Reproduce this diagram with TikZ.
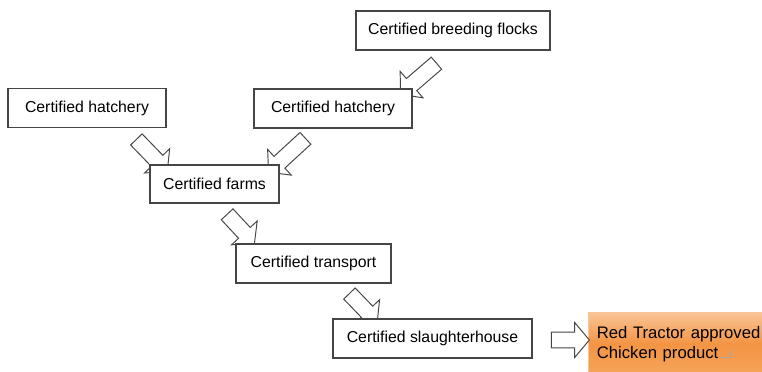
\documentclass[tikz,border=0pt]{standalone}
\usepackage{fontspec}
\setmainfont{Liberation Sans}
\usetikzlibrary{shapes.arrows,backgrounds}
\definecolor{boxline}{HTML}{454545}
\definecolor{prodtop}{HTML}{F9C597}
\definecolor{prodmid}{HTML}{F39443}
\definecolor{prodbot}{HTML}{F6A45B}
\tikzset{
  certbox/.style={draw=boxline,line width=0.6pt,fill=white,minimum height=0.78cm,inner sep=0pt,font=\fontsize{9}{11}\selectfont},
  flowarrow/.style={single arrow,draw=boxline,fill=white,line width=0.55pt,inner xsep=0pt,inner ysep=0.15cm,minimum width=0pt,
    single arrow head extend=0.19cm,single arrow tip angle=100,sloped,allow upside down},
  prodbox/.style={top color=prodtop,bottom color=prodbot,middle color=prodmid,draw=prodtop,line width=0.4pt,
    align=left,text width=3.66cm,inner xsep=0.17cm,inner ysep=0pt,font=\fontsize{9.5}{11.4}\selectfont}
}
\begin{document}
\begin{tikzpicture}[x=0.02cm,y=-0.02cm]
\clip(0,0)rectangle(762,372);
% boxes
\node[certbox,minimum width=3.88cm](flocks)at(453,30.5){Certified breeding flocks};
\node[certbox,minimum width=3.16cm](hatchL)at(87,108){Certified hatchery};
\node[certbox,minimum width=3.16cm](hatchR)at(333,108.5){Certified hatchery};
\node[certbox,minimum width=2.58cm,minimum height=0.76cm](farms)at(214.5,184){Certified farms};
\node[certbox,minimum width=3.1cm](transport)at(313.5,263.5){Certified transport};
\node[certbox,minimum width=3.98cm](slaughter)at(432.5,338.5){Certified slaughterhouse};
\node[prodbox,anchor=north west,minimum height=1.26cm](product)at(588,312)
  {Red Tractor approved\\Chicken product\,\textcolor{gray!70}{\rule{5pt}{0.4pt}\rule{0.4pt}{4.5pt}}};
% block arrows
\coordinate(t1)at(439,61);\coordinate(h1)at(403,92);
\coordinate(t2)at(134,137);\coordinate(h2)at(165,169);
\coordinate(t3)at(308,136);\coordinate(h3)at(271,170);
\coordinate(t4)at(225,212);\coordinate(h4)at(252,241);
\coordinate(t5)at(347,291);\coordinate(h5)at(375,320);
\coordinate(t6)at(548,340);\coordinate(h6)at(586,340);
\begin{scope}[on background layer]
\path(t1)--node[flowarrow,minimum height=0.95cm](a1){}(h1);
\path(t2)--node[flowarrow,minimum height=0.89cm](a2){}(h2);
\path(t3)--node[flowarrow,minimum height=1cm](a3){}(h3);
\path(t4)--node[flowarrow,minimum height=0.8cm](a4){}(h4);
\path(t5)--node[flowarrow,minimum height=0.8cm](a5){}(h5);
\end{scope}
\path(t6)--node[flowarrow,minimum height=0.76cm](a6){}(h6);
\end{tikzpicture}
\end{document}
